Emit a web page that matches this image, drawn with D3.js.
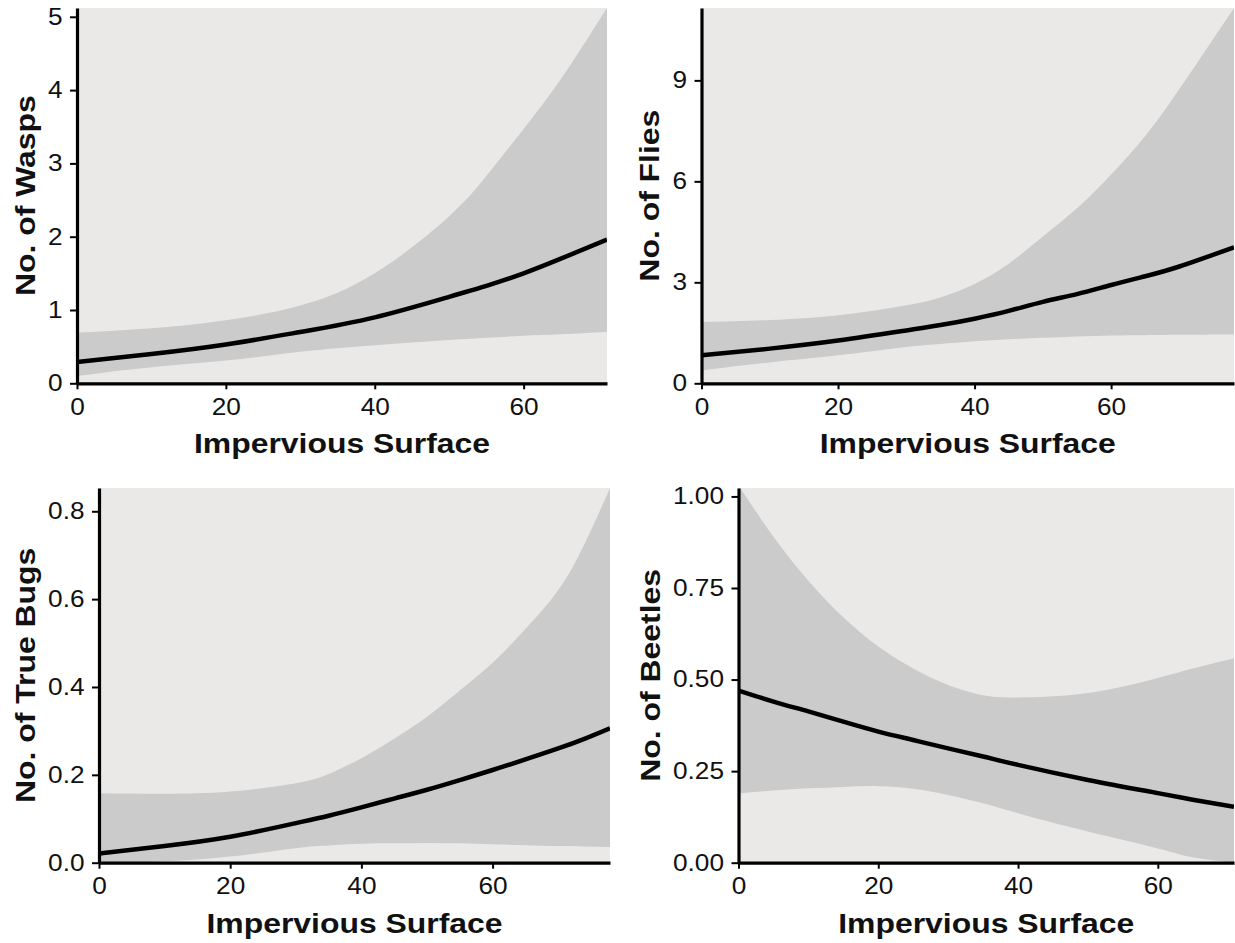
<!DOCTYPE html>
<html>
<head>
<meta charset="utf-8">
<script src="https://cdn.jsdelivr.net/npm/d3@7"></script>
<style>
  html, body { margin: 0; padding: 0; background: #ffffff; }
  svg { display: block; }
  text { font-family: "Liberation Sans", Arial, sans-serif; fill: #111; }
</style>
</head>
<body>
<svg id="chart" width="1235" height="943"></svg>
<script>
// ---------- DATA ----------
const xTitle = "Impervious Surface";

// Wasps
const waspsX     = [0, 10, 20, 30, 40, 50, 55, 60, 65, 71.2];
const waspsFit   = [0.29, 0.40, 0.53, 0.70, 0.90, 1.18, 1.33, 1.50, 1.70, 1.96];
const waspsUpper = [0.69, 0.75, 0.86, 1.06, 1.50, 2.28, 2.83, 3.47, 4.15, 5.12];
const waspsLower = [0.10, 0.22, 0.31, 0.43, 0.52, 0.59, 0.62, 0.65, 0.67, 0.70];
const waspsTicks = [0, 1, 2, 3, 4, 5];

// Flies
const fliesX     = [0, 10, 20, 30, 35, 40, 45, 50, 55, 60, 65, 70, 78];
const fliesFit   = [0.83, 1.03, 1.27, 1.57, 1.73, 1.92, 2.15, 2.42, 2.65, 2.92, 3.18, 3.47, 4.04];
const fliesUpper = [1.82, 1.88, 2.02, 2.32, 2.55, 2.95, 3.55, 4.36, 5.20, 6.20, 7.35, 8.74, 11.15];
const fliesLower = [0.38, 0.62, 0.83, 1.08, 1.17, 1.25, 1.31, 1.35, 1.39, 1.42, 1.43, 1.44, 1.45];
const fliesTicks = [0, 3, 6, 9];

// True bugs
const bugsX     = [0, 10, 20, 30, 35, 40, 45, 50, 55, 60, 65, 70, 74, 77.9];
const bugsFit   = [0.021, 0.038, 0.059, 0.090, 0.107, 0.126, 0.146, 0.166, 0.188, 0.211, 0.235, 0.260, 0.282, 0.306];
const bugsUpper = [0.158, 0.157, 0.162, 0.181, 0.202, 0.238, 0.282, 0.332, 0.392, 0.455, 0.532, 0.620, 0.725, 0.853];
const bugsLower = [0.000, 0.003, 0.014, 0.033, 0.039, 0.043, 0.044, 0.045, 0.044, 0.042, 0.040, 0.038, 0.037, 0.036];
const bugsTicks = [0.0, 0.2, 0.4, 0.6, 0.8];

// Beetles
const beetlesX     = [0, 5, 10, 15, 20, 25, 30, 35, 40, 50, 60, 65, 70.9];
const beetlesFit   = [0.470, 0.440, 0.413, 0.385, 0.358, 0.335, 0.312, 0.290, 0.267, 0.226, 0.190, 0.172, 0.153];
const beetlesUpper = [1.030, 0.890, 0.770, 0.670, 0.590, 0.530, 0.485, 0.457, 0.451, 0.463, 0.504, 0.530, 0.558];
const beetlesLower = [0.189, 0.197, 0.203, 0.207, 0.209, 0.202, 0.185, 0.162, 0.135, 0.085, 0.039, 0.015, 0.000];
const beetlesTicks = [0, 0.25, 0.5, 0.75, 1.0];

const xTicks = [0, 20, 40, 60];

// ---------- LAYOUT ----------
const panels = [
  { title: "No. of Wasps",     x: waspsX,   fit: waspsFit,   up: waspsUpper,   lo: waspsLower,   yt: waspsTicks,   fmt: d3.format("d"),
    box: { l: 77,    r: 607,  t: 8,   b: 383.3 }, xmax: 71.2, ymax: 5.12 },
  { title: "No. of Flies",     x: fliesX,   fit: fliesFit,   up: fliesUpper,   lo: fliesLower,   yt: fliesTicks,   fmt: d3.format("d"),
    box: { l: 701.5, r: 1234, t: 8,   b: 383.3 }, xmax: 78,   ymax: 11.15 },
  { title: "No. of True Bugs", x: bugsX,    fit: bugsFit,    up: bugsUpper,    lo: bugsLower,    yt: bugsTicks,    fmt: d3.format(".1f"),
    box: { l: 99,    r: 610,  t: 488, b: 862.7 }, xmax: 77.9, ymax: 0.853 },
  { title: "No. of Beetles",   x: beetlesX, fit: beetlesFit, up: beetlesUpper, lo: beetlesLower, yt: beetlesTicks, fmt: d3.format(".2f"),
    box: { l: 738.5, r: 1234, t: 488, b: 862.7 }, xmax: 70.9, ymax: 1.023 }
];

const svg = d3.select("#chart");
const SX = 1.14; // glyphs in the original are wider than Liberation Sans

panels.forEach((p, i) => {
  const b = p.box;
  const xs = d3.scaleLinear().domain([0, p.xmax]).range([b.l, b.r]);
  const ys = d3.scaleLinear().domain([0, p.ymax]).range([b.b, b.t]);

  const clipId = "clip" + i;
  svg.append("clipPath").attr("id", clipId)
    .append("rect").attr("x", b.l).attr("y", b.t).attr("width", b.r - b.l).attr("height", b.b - b.t);

  svg.append("rect").attr("x", b.l).attr("y", b.t).attr("width", b.r - b.l).attr("height", b.b - b.t)
    .attr("fill", "#ebe9e8");

  const rows = p.x.map((xv, j) => ({ x: xv, f: p.fit[j], u: p.up[j], l: p.lo[j] }));
  const curve = d3.curveNatural;

  const g = svg.append("g").attr("clip-path", `url(#${clipId})`);
  g.append("path").datum(rows)
    .attr("fill", "#cbcbcb")
    .attr("d", d3.area().x(d => xs(d.x)).y0(d => ys(d.l)).y1(d => ys(d.u)).curve(curve));
  g.append("path").datum(rows)
    .attr("fill", "none").attr("stroke", "#000").attr("stroke-width", 4.5)
    .attr("stroke-linejoin", "round")
    .attr("d", d3.line().x(d => xs(d.x)).y(d => ys(d.f)).curve(curve));

  const ax = svg.append("g").attr("transform", `translate(0,${b.b})`)
    .call(d3.axisBottom(xs).tickValues(xTicks).tickSize(6).tickSizeOuter(0).tickPadding(9).tickFormat(d3.format("d")));
  const ay = svg.append("g").attr("transform", `translate(${b.l},0)`)
    .call(d3.axisLeft(ys).tickValues(p.yt).tickSize(7).tickSizeOuter(0).tickPadding(5.7).tickFormat(p.fmt));

  [ax, ay].forEach(a => {
    a.select(".domain").attr("stroke", "#000").attr("stroke-width", 3.2);
    a.selectAll(".tick line").attr("stroke", "#000").attr("stroke-width", 2);
    a.selectAll(".tick text").attr("font-size", 23).attr("fill", "#111")
      .attr("transform", `scale(${SX},1)`)
      .style("font-family", "'Liberation Sans', Arial, sans-serif");
  });
  ax.selectAll(".tick text").attr("dy", "0.72em");

  let maxW = 0;
  ay.selectAll(".tick text").each(function () { maxW = Math.max(maxW, this.getComputedTextLength() * SX); });

  svg.append("text")
    .attr("transform", `translate(${(b.l + b.r) / 2},${b.b + 70}) scale(${SX},1)`)
    .attr("text-anchor", "middle")
    .attr("font-size", 28).attr("font-weight", "bold")
    .text(xTitle);

  const tx = b.l - 14.5 - maxW - 13;
  svg.append("text")
    .attr("transform", `translate(${tx},${(b.t + b.b) / 2}) rotate(-90) scale(${SX},1)`)
    .attr("text-anchor", "middle")
    .attr("font-size", 28).attr("font-weight", "bold")
    .text(p.title);
});
</script>
</body>
</html>
